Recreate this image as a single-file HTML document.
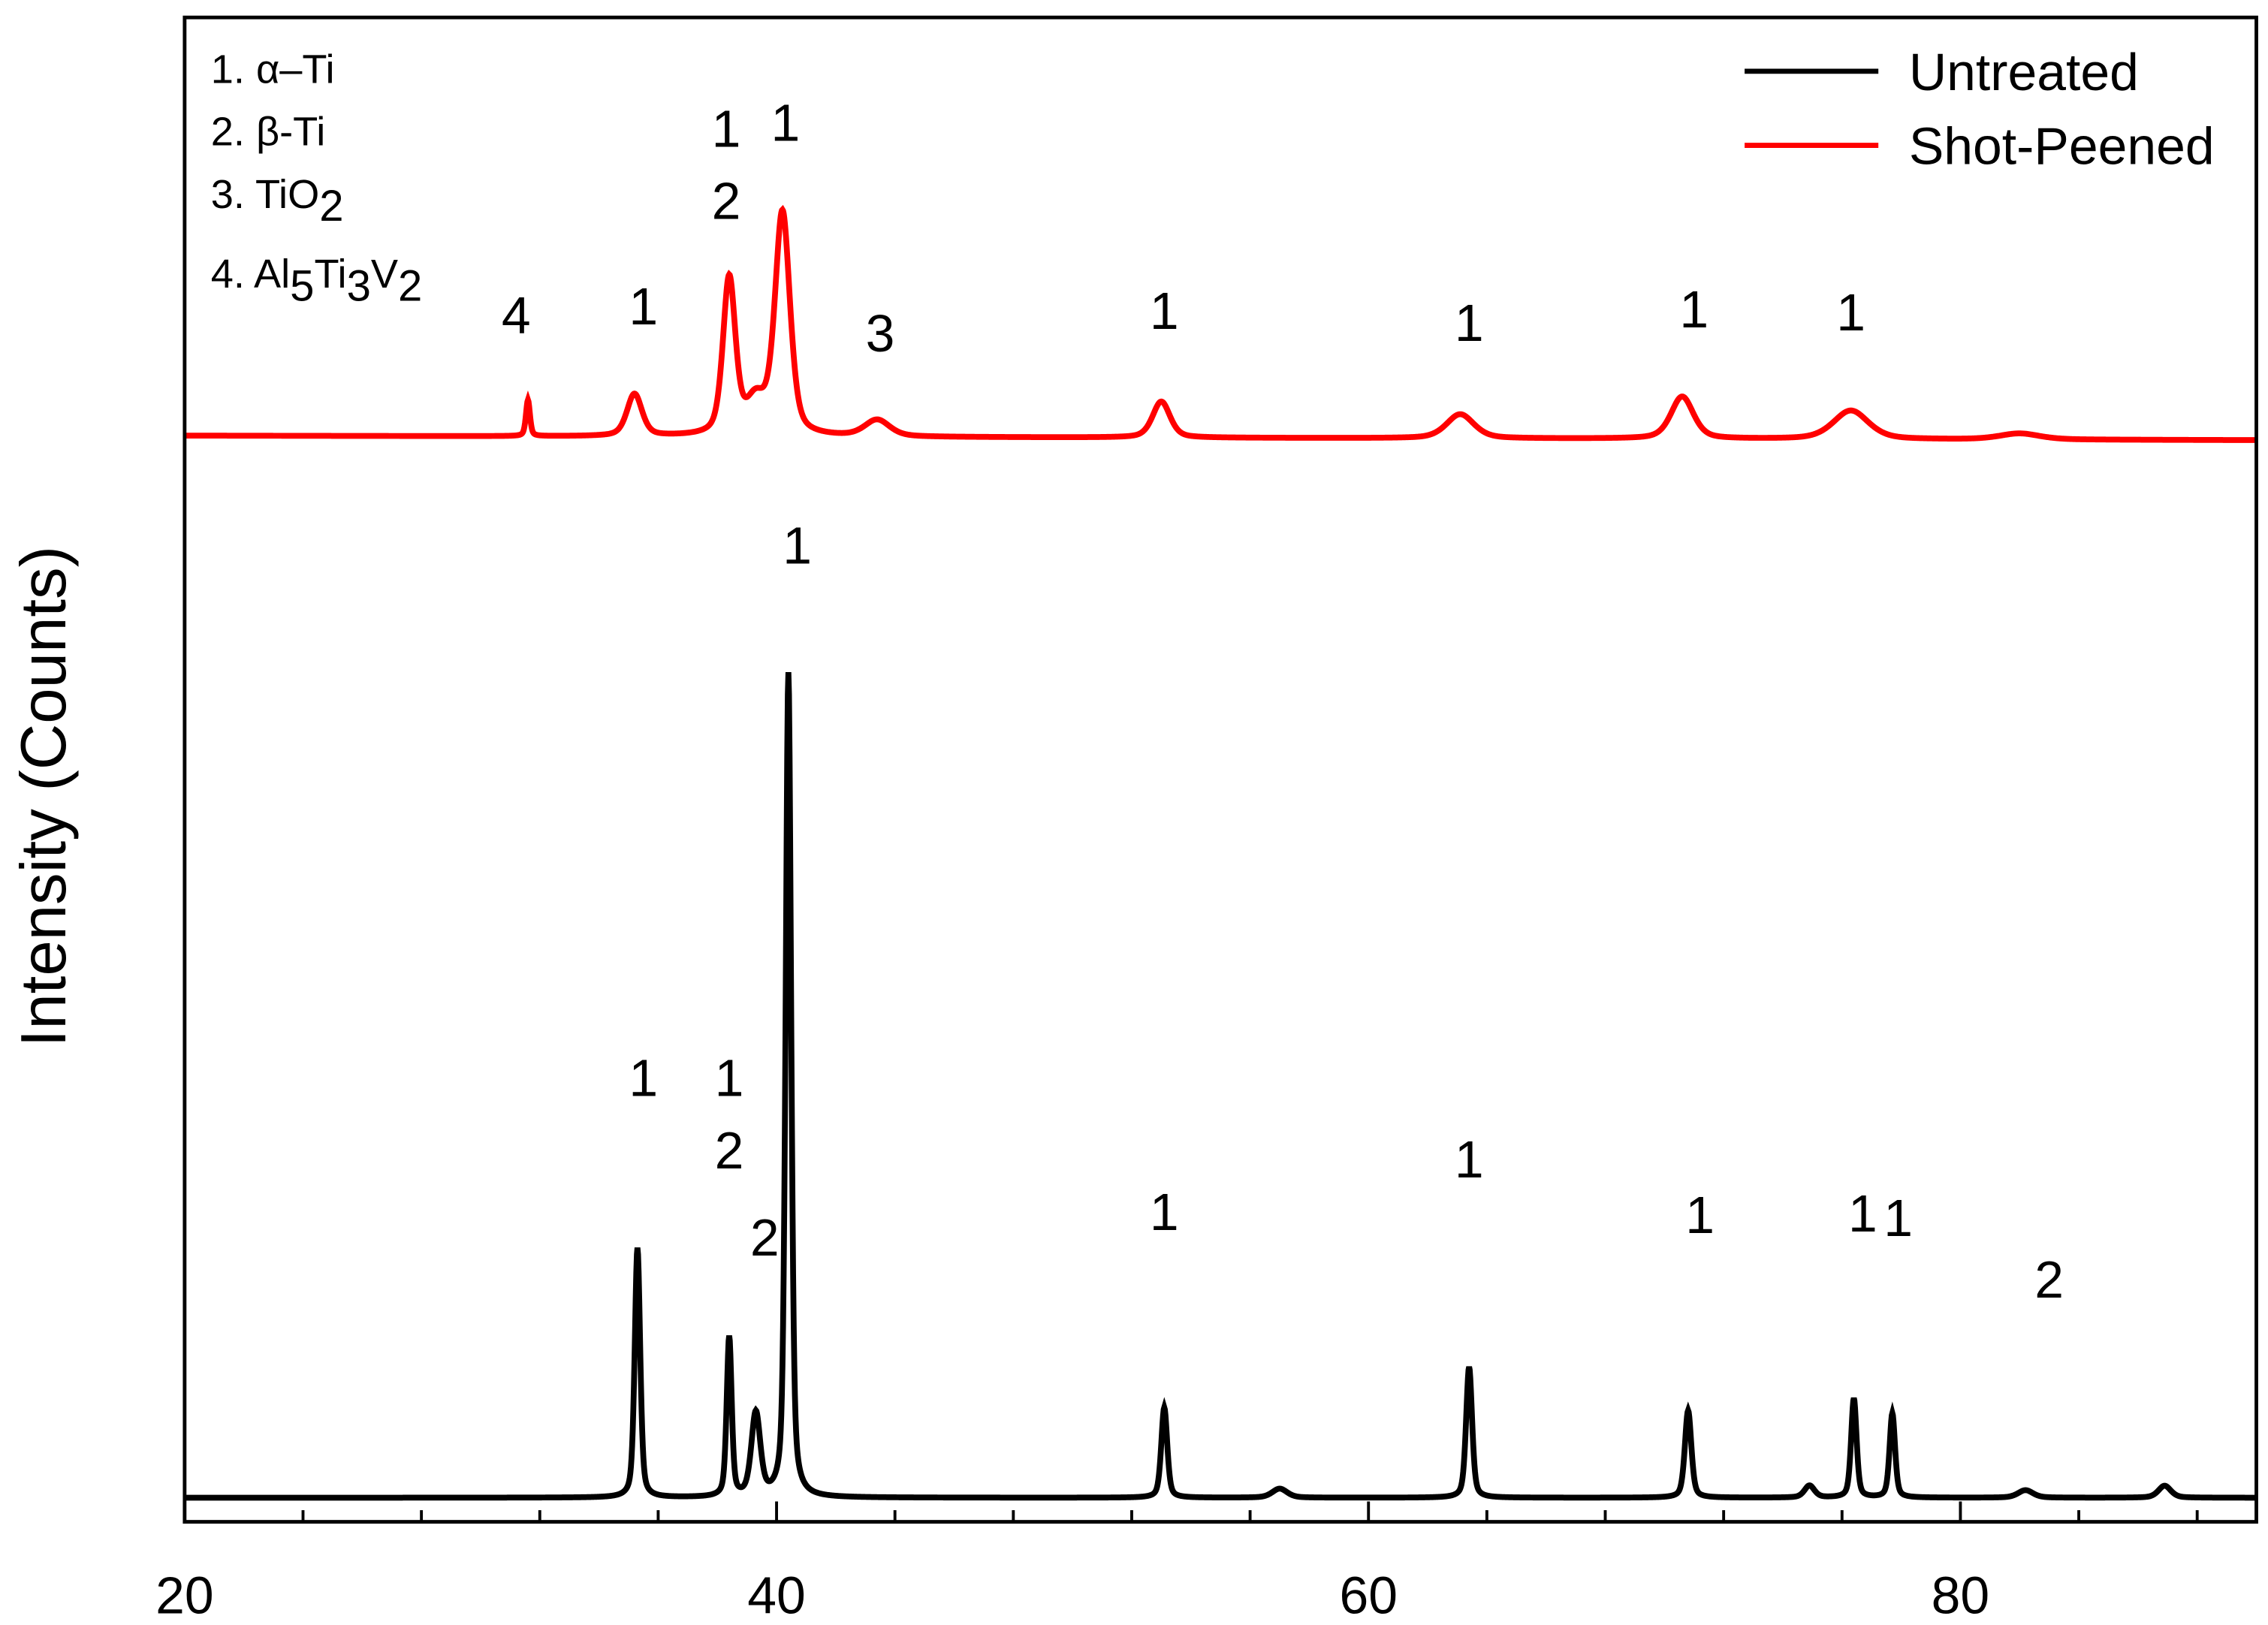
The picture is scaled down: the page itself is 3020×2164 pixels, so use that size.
<!DOCTYPE html>
<html><head><meta charset="utf-8"><style>
html,body{margin:0;padding:0;background:#fff;}
svg{display:block;}
text{font-family:"Liberation Sans",Arial,sans-serif;fill:#000;}
</style></head><body>
<svg id="chart" width="3020" height="2164" viewBox="0 0 1560 1118" preserveAspectRatio="none" xmlns="http://www.w3.org/2000/svg">
<rect x="0" y="0" width="1560" height="1118" fill="#fff"/>
<g id="series"></g>
<rect x="127" y="12" width="1425" height="1035" fill="none" stroke="#000" stroke-width="2.5"/>
<g id="ticks"></g>
<text transform="translate(45,548) rotate(-90)" text-anchor="middle" font-size="44">Intensity (Counts)</text>
<g font-size="28">
<text x="145" y="57">1. α–Ti</text>
<text x="145" y="100">2. β-Ti</text>
<text x="145" y="143">3. TiO<tspan font-size="30" dy="9">2</tspan></text>
<text x="145" y="198">4. Al<tspan font-size="30" dy="9">5</tspan><tspan dy="-9">Ti</tspan><tspan font-size="30" dy="9">3</tspan><tspan dy="-9">V</tspan><tspan font-size="30" dy="9">2</tspan></text>
</g>
<g font-size="36">
<line x1="1200" y1="49" x2="1292" y2="49" stroke="#000" stroke-width="3.5"/>
<text x="1313" y="62">Untreated</text>
<line x1="1200" y1="100" x2="1292" y2="100" stroke="#f00" stroke-width="3.5"/>
<text x="1313" y="113">Shot-Peened</text>
</g>
<g id="labels" font-size="36"></g>
</svg>
<script>
// ---- data ----
const xTicksMajor = [20, 40, 60, 80];
const xTicksMinor = [24, 28, 32, 36, 44, 48, 52, 56, 64, 68, 72, 76, 84, 88];
const untreatedBaseline = 16;
const untreatedPos = [35.3, 38.4, 39.3, 40.4, 53.1, 57.0, 63.4, 70.8, 74.9, 76.4, 77.7, 82.2, 86.9];
const untreatedHeight = [166, 106, 55, 548, 60, 6, 87, 58, 8, 66, 56, 5, 8];
const untreatedWidth = [0.11, 0.1, 0.18, 0.11, 0.12, 0.3, 0.12, 0.13, 0.2, 0.11, 0.11, 0.3, 0.25];
const peenedBaselineStart = 722;
const peenedBaselineEnd = 719;
const peenedPos = [31.6, 35.2, 38.4, 39.3, 40.2, 43.4, 53.0, 63.1, 70.6, 76.3, 82.0];
const peenedHeight = [24, 28, 104, 22, 148, 11, 24, 16, 28, 19, 4];
const peenedWidth = [0.08, 0.3, 0.25, 0.4, 0.3, 0.5, 0.35, 0.55, 0.45, 0.7, 0.8];
const labelText = ["1","2","1","2","1","1","1","1","1","1","2", "4","1","1","2","1","3","1","1","1","1"];
const labelX = [35.5, 38.4, 38.4, 39.6, 40.7, 53.1, 63.4, 71.2, 76.7, 77.9, 83.0, 31.2, 35.5, 38.3, 38.3, 40.3, 43.5, 53.1, 63.4, 71.0, 76.3];
const labelV = [283, 235, 283, 177, 637, 194, 229, 192, 193, 190, 149, 790, 796, 914, 866, 918, 778, 793, 785, 794, 792];
// ---- scales ----
const X0=127, X1=1552, Y0=1047, Y1=12;
const xs = v => X0 + (v-20)/(90-20)*(X1-X0);
const ys = v => Y0 - v*(Y0-Y1)/1000;
const NS='http://www.w3.org/2000/svg';
function profile(t, pos, h, w){
  let s=0;
  for(let i=0;i<pos.length;i++){
    const d=(t-pos[i])/w[i];
    s += h[i]*(0.45/(1+d*d) + 0.55*Math.exp(-d*d*0.7));
  }
  return s;
}
function path(pos,h,w,base0,base1){
  let d='';
  for(let t=20;t<=90.0001;t+=0.02){
    const b = base0 + (base1-base0)*(t-20)/70;
    const v = b + profile(t,pos,h,w);
    d += (d?'L':'M') + xs(t).toFixed(2)+','+ys(v).toFixed(2);
  }
  return d;
}
const g=document.getElementById('series');
const pu=document.createElementNS(NS,'path');


pu.setAttribute('d',path(untreatedPos,untreatedHeight,untreatedWidth,untreatedBaseline,untreatedBaseline));
pu.setAttribute('fill','none');pu.setAttribute('stroke','#000');pu.setAttribute('stroke-width','4');
g.appendChild(pu);
const pp=document.createElementNS(NS,'path');


pp.setAttribute('d',path(peenedPos,peenedHeight,peenedWidth,peenedBaselineStart,peenedBaselineEnd));
pp.setAttribute('fill','none');pp.setAttribute('stroke','#f00');pp.setAttribute('stroke-width','4');
g.appendChild(pp);
// ticks
const tg=document.getElementById('ticks');
xTicksMajor.forEach(v=>{
  const l=document.createElementNS(NS,'line');
  
  
  l.setAttribute('x1',xs(v));l.setAttribute('x2',xs(v));l.setAttribute('y1',Y0);l.setAttribute('y2',Y0-14);
  l.setAttribute('stroke','#000');l.setAttribute('stroke-width','2');tg.appendChild(l);
  const t=document.createElementNS(NS,'text');
  
  
  t.setAttribute('x',xs(v));t.setAttribute('y',1110);t.setAttribute('text-anchor','middle');t.setAttribute('font-size','36');
  t.textContent=v;tg.appendChild(t);
});
xTicksMinor.forEach(v=>{
  const l=document.createElementNS(NS,'line');
  
  
  l.setAttribute('x1',xs(v));l.setAttribute('x2',xs(v));l.setAttribute('y1',Y0);l.setAttribute('y2',Y0-8);
  l.setAttribute('stroke','#000');l.setAttribute('stroke-width','2');tg.appendChild(l);
});
// peak labels
const lg=document.getElementById('labels');
labelText.forEach((txt,i)=>{
  const t=document.createElementNS(NS,'text');
  
  
  t.setAttribute('x',xs(labelX[i]));t.setAttribute('y',ys(labelV[i]));t.setAttribute('text-anchor','middle');
  t.textContent=txt;lg.appendChild(t);
});
</script>
</body></html>
